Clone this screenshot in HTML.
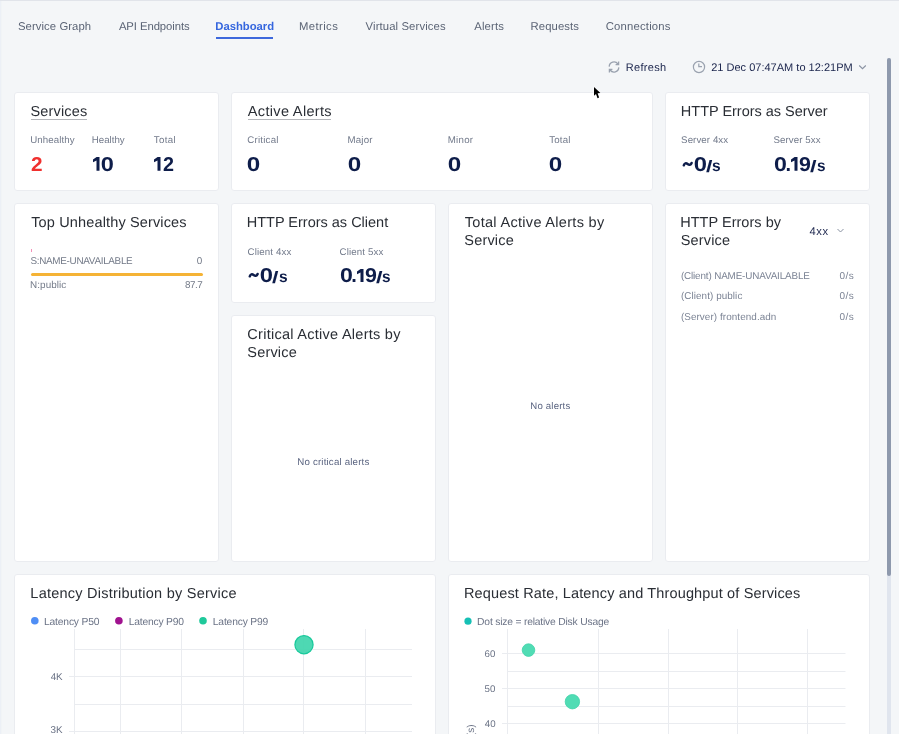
<!DOCTYPE html>
<html><head><meta charset="utf-8"><style>
html,body{margin:0;padding:0;}
body{width:899px;height:734px;overflow:hidden;position:relative;background:#f4f6f8;font-family:"Liberation Sans",sans-serif;}
.t{position:absolute;white-space:nowrap;line-height:1;text-rendering:geometricPrecision;}
</style></head><body><div style="position:absolute;left:0;top:0;width:899px;height:734px;will-change:transform">
<div style="position:absolute;left:0px;top:0px;width:899px;height:1px;background:#e1e4ea"></div>
<div style="position:absolute;left:0px;top:1px;width:1px;height:733px;background:#ecf0f6"></div>
<div style="position:absolute;left:1px;top:1px;width:1px;height:733px;background:#f1f4f6"></div>
<div class="t" style="left:18.00px;top:22.00px;font-size:11.3px;color:#5b6475;letter-spacing:0.075px;">Service Graph</div>
<div class="t" style="left:118.90px;top:22.00px;font-size:11.3px;color:#5b6475;letter-spacing:-0.071px;">API Endpoints</div>
<div class="t" style="left:298.93px;top:22.00px;font-size:11.3px;color:#5b6475;letter-spacing:0.413px;">Metrics</div>
<div class="t" style="left:365.57px;top:22.00px;font-size:11.3px;color:#5b6475;letter-spacing:0.117px;">Virtual Services</div>
<div class="t" style="left:474.20px;top:22.00px;font-size:11.3px;color:#5b6475;letter-spacing:0.18px;">Alerts</div>
<div class="t" style="left:530.62px;top:22.00px;font-size:11.3px;color:#5b6475;letter-spacing:0.071px;">Requests</div>
<div class="t" style="left:605.77px;top:22.00px;font-size:11.3px;color:#5b6475;letter-spacing:0.185px;">Connections</div>
<div class="t" style="left:215.25px;top:22.00px;font-size:11.3px;color:#3566de;font-weight:700;letter-spacing:-0.025px;">Dashboard</div>
<div style="position:absolute;left:216px;top:37px;width:57px;height:2px;background:#3d68dc"></div>
<div class="t" style="left:625.83px;top:63.00px;font-size:11px;color:#18224a;letter-spacing:0.304px;">Refresh</div>
<div class="t" style="left:711.20px;top:63.00px;font-size:11px;color:#18224a;letter-spacing:0.009px;">21 Dec 07:47AM to 12:21PM</div>
<div style="position:absolute;left:14px;top:92px;width:205px;height:99px;box-sizing:border-box;border:1px solid #eaecf0;background:#fff;border-radius:3px"></div>
<div style="position:absolute;left:231px;top:92px;width:422px;height:99px;box-sizing:border-box;border:1px solid #eaecf0;background:#fff;border-radius:3px"></div>
<div style="position:absolute;left:665px;top:92px;width:205px;height:99px;box-sizing:border-box;border:1px solid #eaecf0;background:#fff;border-radius:3px"></div>
<div style="position:absolute;left:14px;top:203px;width:205px;height:359px;box-sizing:border-box;border:1px solid #eaecf0;background:#fff;border-radius:3px"></div>
<div style="position:absolute;left:231px;top:203px;width:205px;height:100px;box-sizing:border-box;border:1px solid #eaecf0;background:#fff;border-radius:3px"></div>
<div style="position:absolute;left:231px;top:315px;width:205px;height:247px;box-sizing:border-box;border:1px solid #eaecf0;background:#fff;border-radius:3px"></div>
<div style="position:absolute;left:448px;top:203px;width:205px;height:359px;box-sizing:border-box;border:1px solid #eaecf0;background:#fff;border-radius:3px"></div>
<div style="position:absolute;left:665px;top:203px;width:205px;height:359px;box-sizing:border-box;border:1px solid #eaecf0;background:#fff;border-radius:3px"></div>
<div style="position:absolute;left:14px;top:574px;width:422px;height:200px;box-sizing:border-box;border:1px solid #eaecf0;background:#fff;border-radius:3px"></div>
<div style="position:absolute;left:448px;top:574px;width:422px;height:200px;box-sizing:border-box;border:1px solid #eaecf0;background:#fff;border-radius:3px"></div>
<div class="t" style="left:30.45px;top:105.00px;font-size:14.5px;color:#2a2e35;letter-spacing:0.175px;">Services</div>
<div style="position:absolute;left:31px;top:119px;width:56px;height:1px;background:#b5b7bb"></div>
<div class="t" style="left:247.80px;top:105.00px;font-size:14.5px;color:#2a2e35;letter-spacing:0.337px;">Active Alerts</div>
<div style="position:absolute;left:248px;top:119px;width:83px;height:1px;background:#b5b7bb"></div>
<div class="t" style="left:680.85px;top:105.00px;font-size:14.5px;color:#2a2e35;letter-spacing:-0.016px;">HTTP Errors as Server</div>
<div class="t" style="left:30.25px;top:136.00px;font-size:9.7px;color:#727a8b;letter-spacing:0.103px;">Unhealthy</div>
<div class="t" style="left:91.85px;top:136.00px;font-size:9.7px;color:#727a8b;">Healthy</div>
<div class="t" style="left:153.85px;top:136.00px;font-size:9.7px;color:#727a8b;letter-spacing:0.344px;">Total</div>
<div class="t" style="left:30.85px;top:155.00px;font-size:20px;color:#f0302e;font-weight:700;transform:scaleX(1.039);transform-origin:0.75px 0;">2</div>
<svg style="position:absolute;left:92.60px;top:157.20px" width="7" height="13.80" viewBox="0 0 7 13.80"><path d="M3.6 0 L6.5 0 L6.5 13.80 L3.5 13.80 L3.5 3.5 L0 5.2 L0 2.4 Z" fill="#0e1d4a"/></svg>
<div class="t" style="left:101.25px;top:155.00px;font-size:20px;color:#0e1d4a;font-weight:700;transform:scaleX(1.179);transform-origin:0.75px 0;">0</div>
<svg style="position:absolute;left:154.40px;top:157.20px" width="7" height="13.80" viewBox="0 0 7 13.80"><path d="M3.6 0 L6.5 0 L6.5 13.80 L3.5 13.80 L3.5 3.5 L0 5.2 L0 2.4 Z" fill="#0e1d4a"/></svg>
<div class="t" style="left:162.95px;top:155.00px;font-size:20px;color:#0e1d4a;font-weight:700;transform:scaleX(0.987);transform-origin:0.75px 0;">2</div>
<div class="t" style="left:247.30px;top:136.00px;font-size:9.7px;color:#727a8b;letter-spacing:0.214px;">Critical</div>
<div class="t" style="left:347.55px;top:136.00px;font-size:9.7px;color:#727a8b;letter-spacing:0.181px;">Major</div>
<div class="t" style="left:447.75px;top:136.00px;font-size:9.7px;color:#727a8b;letter-spacing:0.256px;">Minor</div>
<div class="t" style="left:549.15px;top:136.00px;font-size:9.7px;color:#727a8b;letter-spacing:0.219px;">Total</div>
<div class="t" style="left:247.35px;top:155.00px;font-size:20px;color:#0e1d4a;font-weight:700;transform:scaleX(1.211);transform-origin:0.75px 0;">0</div>
<div class="t" style="left:347.65px;top:155.00px;font-size:20px;color:#0e1d4a;font-weight:700;transform:scaleX(1.211);transform-origin:0.75px 0;">0</div>
<div class="t" style="left:448.15px;top:155.00px;font-size:20px;color:#0e1d4a;font-weight:700;transform:scaleX(1.211);transform-origin:0.75px 0;">0</div>
<div class="t" style="left:548.65px;top:155.00px;font-size:20px;color:#0e1d4a;font-weight:700;transform:scaleX(1.211);transform-origin:0.75px 0;">0</div>
<div class="t" style="left:681.10px;top:136.00px;font-size:9.7px;color:#727a8b;letter-spacing:0.083px;">Server 4xx</div>
<div class="t" style="left:773.50px;top:136.00px;font-size:9.7px;color:#727a8b;letter-spacing:0.083px;">Server 5xx</div>
<svg style="position:absolute;left:682.00px;top:160.00px" width="12" height="8" viewBox="0 0 12 8"><path d="M1.8 5.3 C2.5 3.1, 4.1 2.8, 5.6 4 C7.1 5.2, 8.8 5.3, 9.6 3" fill="none" stroke="#0e1d4a" stroke-width="2.5" stroke-linecap="round"/></svg>
<div class="t" style="left:693.85px;top:155.00px;font-size:20px;color:#0e1d4a;font-weight:700;transform:scaleX(1.189);transform-origin:0.75px 0;">0</div>
<div class="t" style="left:705.95px;top:159.00px;font-size:16.5px;color:#0e1d4a;font-weight:700;transform:scaleX(1.406);transform-origin:0.25px 0;">/</div>
<div class="t" style="left:712.27px;top:159.00px;font-size:16px;color:#0e1d4a;font-weight:700;transform:scaleX(0.970);transform-origin:0.62px 0;">s</div>
<div class="t" style="left:773.95px;top:155.00px;font-size:20px;color:#0e1d4a;font-weight:700;transform:scaleX(1.158);transform-origin:0.75px 0;">0</div>
<div class="t" style="left:785.62px;top:155.00px;font-size:20px;color:#0e1d4a;font-weight:700;">.</div>
<svg style="position:absolute;left:790.90px;top:157.20px" width="7" height="13.80" viewBox="0 0 7 13.80"><path d="M3.6 0 L6.5 0 L6.5 13.80 L3.5 13.80 L3.5 3.5 L0 5.2 L0 2.4 Z" fill="#0e1d4a"/></svg>
<div class="t" style="left:798.95px;top:155.00px;font-size:20px;color:#0e1d4a;font-weight:700;transform:scaleX(1.070);transform-origin:0.75px 0;">9</div>
<div class="t" style="left:810.45px;top:159.00px;font-size:16.5px;color:#0e1d4a;font-weight:700;transform:scaleX(1.430);transform-origin:0.25px 0;">/</div>
<div class="t" style="left:816.88px;top:159.00px;font-size:16px;color:#0e1d4a;font-weight:700;transform:scaleX(0.957);transform-origin:0.62px 0;">s</div>
<div class="t" style="left:31.23px;top:216.00px;font-size:14.5px;color:#2a2e35;letter-spacing:0.144px;">Top Unhealthy Services</div>
<div style="position:absolute;left:31px;top:249px;width:1px;height:3px;background:#f391b8"></div>
<div class="t" style="left:30.50px;top:257.00px;font-size:9.9px;color:#737a88;letter-spacing:-0.294px;">S:NAME-UNAVAILABLE</div>
<div class="t" style="left:196.82px;top:257.00px;font-size:9.9px;color:#737a88;">0</div>
<div style="position:absolute;left:31px;top:273px;width:172px;height:3px;background:#f5b335;border-radius:2px"></div>
<div class="t" style="left:30.12px;top:281.00px;font-size:9.9px;color:#737a88;letter-spacing:0.054px;">N:public</div>
<div class="t" style="left:185.12px;top:281.00px;font-size:9.9px;color:#737a88;letter-spacing:-0.558px;">87.7</div>
<div class="t" style="left:246.75px;top:216.00px;font-size:14.5px;color:#2a2e35;letter-spacing:-0.006px;">HTTP Errors as Client</div>
<div class="t" style="left:247.50px;top:248.00px;font-size:9.7px;color:#727a8b;letter-spacing:0.133px;">Client 4xx</div>
<div class="t" style="left:339.50px;top:248.00px;font-size:9.7px;color:#727a8b;letter-spacing:0.144px;">Client 5xx</div>
<svg style="position:absolute;left:248.40px;top:271.30px" width="12" height="8" viewBox="0 0 12 8"><path d="M1.8 5.3 C2.5 3.1, 4.1 2.8, 5.6 4 C7.1 5.2, 8.8 5.3, 9.6 3" fill="none" stroke="#0e1d4a" stroke-width="2.5" stroke-linecap="round"/></svg>
<div class="t" style="left:260.25px;top:266.00px;font-size:20px;color:#0e1d4a;font-weight:700;transform:scaleX(1.189);transform-origin:0.75px 0;">0</div>
<div class="t" style="left:272.35px;top:270.00px;font-size:16.5px;color:#0e1d4a;font-weight:700;transform:scaleX(1.406);transform-origin:0.25px 0;">/</div>
<div class="t" style="left:278.67px;top:270.00px;font-size:16px;color:#0e1d4a;font-weight:700;transform:scaleX(0.970);transform-origin:0.62px 0;">s</div>
<div class="t" style="left:339.55px;top:266.00px;font-size:20px;color:#0e1d4a;font-weight:700;transform:scaleX(1.158);transform-origin:0.75px 0;">0</div>
<div class="t" style="left:351.23px;top:266.00px;font-size:20px;color:#0e1d4a;font-weight:700;">.</div>
<svg style="position:absolute;left:356.50px;top:268.50px" width="7" height="13.80" viewBox="0 0 7 13.80"><path d="M3.6 0 L6.5 0 L6.5 13.80 L3.5 13.80 L3.5 3.5 L0 5.2 L0 2.4 Z" fill="#0e1d4a"/></svg>
<div class="t" style="left:364.55px;top:266.00px;font-size:20px;color:#0e1d4a;font-weight:700;transform:scaleX(1.070);transform-origin:0.75px 0;">9</div>
<div class="t" style="left:376.05px;top:270.00px;font-size:16.5px;color:#0e1d4a;font-weight:700;transform:scaleX(1.430);transform-origin:0.25px 0;">/</div>
<div class="t" style="left:382.48px;top:270.00px;font-size:16px;color:#0e1d4a;font-weight:700;transform:scaleX(0.957);transform-origin:0.62px 0;">s</div>
<div class="t" style="left:247.35px;top:328.00px;font-size:14.5px;color:#2a2e35;letter-spacing:0.268px;">Critical Active Alerts by</div>
<div class="t" style="left:247.35px;top:346.00px;font-size:14.5px;color:#2a2e35;letter-spacing:0.167px;">Service</div>
<div class="t" style="left:297.25px;top:458.00px;font-size:9.7px;color:#5a6480;letter-spacing:0.184px;">No critical alerts</div>
<div class="t" style="left:464.73px;top:216.00px;font-size:14.5px;color:#2a2e35;letter-spacing:0.31px;">Total Active Alerts by</div>
<div class="t" style="left:464.35px;top:234.00px;font-size:14.5px;color:#2a2e35;letter-spacing:0.167px;">Service</div>
<div class="t" style="left:530.25px;top:402.00px;font-size:9.6px;color:#5a6480;letter-spacing:0.203px;">No alerts</div>
<div class="t" style="left:680.25px;top:216.00px;font-size:14.5px;color:#2a2e35;letter-spacing:0.021px;">HTTP Errors by</div>
<div class="t" style="left:680.75px;top:234.00px;font-size:14.5px;color:#2a2e35;letter-spacing:0.167px;">Service</div>
<div class="t" style="left:809.55px;top:227.00px;font-size:11.2px;color:#18224a;letter-spacing:0.6px;">4xx</div>
<svg style="position:absolute;left:836px;top:227px" width="9" height="7" viewBox="0 0 9 7"><path d="M1.5 2 L4.5 5 L7.5 2" fill="none" stroke="#8a93a3" stroke-width="1"/></svg>
<div class="t" style="left:680.88px;top:272.00px;font-size:9.9px;color:#7b8394;letter-spacing:-0.144px;">(Client) NAME-UNAVAILABLE</div>
<div class="t" style="left:839.62px;top:272.00px;font-size:10px;color:#7b8394;letter-spacing:0.388px;">0/s</div>
<div class="t" style="left:680.88px;top:292.00px;font-size:9.9px;color:#7b8394;letter-spacing:0.077px;">(Client) public</div>
<div class="t" style="left:839.62px;top:292.00px;font-size:10px;color:#7b8394;letter-spacing:0.388px;">0/s</div>
<div class="t" style="left:680.88px;top:313.00px;font-size:9.9px;color:#7b8394;letter-spacing:0.081px;">(Server) frontend.adn</div>
<div class="t" style="left:839.62px;top:313.00px;font-size:10px;color:#7b8394;letter-spacing:0.388px;">0/s</div>
<div class="t" style="left:30.35px;top:587.00px;font-size:14.5px;color:#2a2e35;letter-spacing:0.236px;">Latency Distribution by Service</div>
<div class="t" style="left:463.95px;top:587.00px;font-size:14.5px;color:#2a2e35;letter-spacing:0.148px;">Request Rate, Latency and Throughput of Services</div>
<svg style="position:absolute;left:0;top:0" width="899" height="734"><line x1="74.5" y1="629" x2="74.5" y2="734" stroke="#eaecf0" stroke-width="1"/><line x1="120.5" y1="629" x2="120.5" y2="734" stroke="#eaecf0" stroke-width="1"/><line x1="181.5" y1="629" x2="181.5" y2="734" stroke="#eaecf0" stroke-width="1"/><line x1="243.5" y1="629" x2="243.5" y2="734" stroke="#eaecf0" stroke-width="1"/><line x1="303.5" y1="629" x2="303.5" y2="734" stroke="#eaecf0" stroke-width="1"/><line x1="365.5" y1="629" x2="365.5" y2="734" stroke="#eaecf0" stroke-width="1"/><line x1="74.5" y1="649.5" x2="412" y2="649.5" stroke="#eaecf0" stroke-width="1"/><line x1="69" y1="676.5" x2="412" y2="676.5" stroke="#eaecf0" stroke-width="1"/><line x1="74.5" y1="704.5" x2="412" y2="704.5" stroke="#eaecf0" stroke-width="1"/><line x1="69" y1="731.5" x2="412" y2="731.5" stroke="#eaecf0" stroke-width="1"/><circle cx="304" cy="644.7" r="9.1" fill="#3fd5ac" fill-opacity="0.92" stroke="#18c99b" stroke-width="1.2"/><circle cx="34.8" cy="620.8" r="3.8" fill="#4f8ef5"/><circle cx="118.9" cy="620.8" r="3.8" fill="#a0128f"/><circle cx="203" cy="620.8" r="3.8" fill="#1fc99b"/><line x1="507.5" y1="629" x2="507.5" y2="734" stroke="#eaecf0" stroke-width="1"/><line x1="598.5" y1="629" x2="598.5" y2="734" stroke="#eaecf0" stroke-width="1"/><line x1="668.5" y1="629" x2="668.5" y2="734" stroke="#eaecf0" stroke-width="1"/><line x1="737.5" y1="629" x2="737.5" y2="734" stroke="#eaecf0" stroke-width="1"/><line x1="807.5" y1="629" x2="807.5" y2="734" stroke="#eaecf0" stroke-width="1"/><line x1="502" y1="653.5" x2="845.5" y2="653.5" stroke="#eaecf0" stroke-width="1"/><line x1="507.5" y1="671.5" x2="845.5" y2="671.5" stroke="#eaecf0" stroke-width="1"/><line x1="502" y1="688.5" x2="845.5" y2="688.5" stroke="#eaecf0" stroke-width="1"/><line x1="507.5" y1="706.5" x2="845.5" y2="706.5" stroke="#eaecf0" stroke-width="1"/><line x1="502" y1="723.5" x2="845.5" y2="723.5" stroke="#eaecf0" stroke-width="1"/><circle cx="528.5" cy="650.1" r="6.3" fill="#50dcb4" stroke="#3fd2a8" stroke-width="0.8"/><circle cx="572.4" cy="701.7" r="7.2" fill="#50dcb4" stroke="#3fd2a8" stroke-width="0.8"/><circle cx="468" cy="621.2" r="3.6" fill="#16c0b5"/></svg>
<div class="t" style="left:44.02px;top:618.00px;font-size:10.3px;color:#6b7386;letter-spacing:-0.18px;">Latency P50</div>
<div class="t" style="left:128.72px;top:618.00px;font-size:10.3px;color:#6b7386;letter-spacing:-0.19px;">Latency P90</div>
<div class="t" style="left:212.82px;top:618.00px;font-size:10.3px;color:#6b7386;letter-spacing:-0.177px;">Latency P99</div>
<div class="t" style="left:477.12px;top:618.00px;font-size:10.3px;color:#6b7386;letter-spacing:-0.192px;">Dot size = relative Disk Usage</div>
<div class="t" style="left:50.75px;top:673.00px;font-size:9.9px;color:#6b7386;letter-spacing:-0.125px;">4K</div>
<div class="t" style="left:50.62px;top:726.00px;font-size:9.9px;color:#6b7386;">3K</div>
<div class="t" style="left:484.50px;top:650.00px;font-size:9.7px;color:#6b7386;">60</div>
<div class="t" style="left:484.62px;top:685.00px;font-size:9.7px;color:#6b7386;">50</div>
<div class="t" style="left:484.75px;top:720.00px;font-size:9.7px;color:#6b7386;">40</div>
<div class="t" style="left:467.2px;top:774px;font-size:10px;color:#6b7386;transform-origin:0 0;transform:rotate(-90deg);">Latency (s)</div>
<svg style="position:absolute;left:606px;top:59px" width="16" height="16" viewBox="0 0 16 16">
<path d="M3.2 7.6 A4.8 4.8 0 0 1 11.9 5" fill="none" stroke="#9aa2af" stroke-width="1.3"/>
<path d="M12.8 8.4 A4.8 4.8 0 0 1 4.1 11" fill="none" stroke="#9aa2af" stroke-width="1.3"/>
<path d="M12.6 2.6 L12.6 5.6 L9.6 5.6" fill="none" stroke="#9aa2af" stroke-width="1.3"/>
<path d="M3.4 13.4 L3.4 10.4 L6.4 10.4" fill="none" stroke="#9aa2af" stroke-width="1.3"/>
</svg>
<svg style="position:absolute;left:691px;top:59px" width="16" height="16" viewBox="0 0 16 16">
<circle cx="8" cy="8" r="5.6" fill="none" stroke="#9aa2af" stroke-width="1.2"/>
<path d="M7.8 4.4 L7.8 7.7 L11 7.7" fill="none" stroke="#9aa2af" stroke-width="1.2"/>
</svg>
<svg style="position:absolute;left:858px;top:63px" width="9" height="8" viewBox="0 0 9 8"><path d="M1.2 2.5 L4.5 5.7 L7.8 2.5" fill="none" stroke="#8a93a3" stroke-width="1.1"/></svg>
<svg style="position:absolute;left:590px;top:84px" width="14" height="18" viewBox="0 0 14 18"><path d="M4 3 L4 11.8 L6 10 L7.5 14.2 L9.1 13.6 L7.6 9.3 L10.4 9.1 Z" fill="#000" stroke="#fff" stroke-width="1" stroke-linejoin="round" paint-order="stroke"/></svg>
<div style="position:absolute;left:887px;top:58px;width:4px;height:676px;background:#e0e5ee;border-radius:2px 2px 0 0"></div>
<div style="position:absolute;left:887px;top:58px;width:4px;height:518px;background:#8e99ad;border-radius:2px"></div>
</div></body></html>
